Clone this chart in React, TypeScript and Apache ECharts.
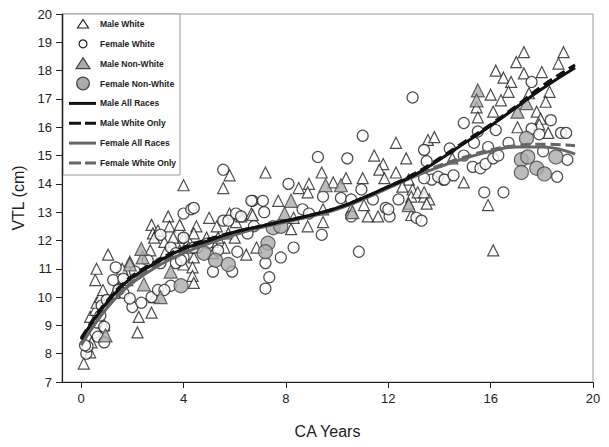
import React, { useEffect, useRef } from "react";
import * as echarts from "echarts";

// Age (years), VTL (cm)
const maleWhite: number[][] = [
  [0.1, 7.65], [0.35, 8.05], [0.4, 8.4], [0.35, 9.3], [0.55, 9.55], [0.6, 9.8], [0.75, 10.0], [0.85, 10.25], [0.55, 10.6], [0.6, 11.0], [1.05, 11.5], [0.9, 9.0],
  [1.3, 10.15], [1.5, 10.35], [1.8, 10.6], [2.2, 8.75], [2.25, 9.3], [2.75, 9.45], [2.85, 10.0], [2.75, 12.55], [2.8, 12.25], [1.9, 11.25], [1.6, 11.0],
  [3.4, 12.85], [3.0, 12.35], [3.45, 12.5], [3.85, 12.55], [4.5, 12.5], [5.0, 12.8], [5.3, 12.5], [5.8, 12.95], [6.05, 12.65],
  [2.85, 12.1], [3.25, 11.95], [3.6, 12.1], [4.0, 12.1], [4.2, 12.0], [4.4, 12.25], [4.9, 12.1], [5.15, 11.95], [5.35, 12.1], [5.75, 12.25], [6.0, 12.1],
  [2.7, 11.65], [3.3, 11.6], [3.85, 11.65], [4.2, 11.75], [4.4, 11.4], [4.0, 11.15], [4.35, 11.05], [5.15, 11.55], [5.6, 11.75],
  [4.35, 10.75], [4.4, 10.5], [4.0, 13.95], [5.55, 13.85], [5.8, 14.3],
  [6.25, 12.85], [6.65, 12.95], [6.45, 11.5], [6.85, 11.75], [6.7, 12.9], [7.2, 14.4], [7.7, 13.4], [8.3, 12.8], [8.2, 12.4], [8.85, 12.5], [9.45, 12.65], [9.45, 13.1], [8.9, 14.0], [8.5, 13.85], [8.85, 13.7], [9.4, 14.4],
  [9.85, 14.05], [10.35, 14.2], [11.0, 14.2], [11.45, 15.0], [11.8, 14.7], [11.65, 14.5], [11.85, 14.2], [12.3, 15.45], [12.7, 14.9], [12.3, 14.4], [12.8, 14.15], [12.55, 13.9], [12.95, 13.8], [12.9, 13.55], [11.05, 13.25], [11.2, 12.85], [11.6, 12.85], [12.9, 12.9], [10.55, 13.1],
  [13.15, 13.7], [13.4, 13.55], [13.6, 13.45], [12.8, 13.3], [13.5, 13.3], [13.55, 15.55], [13.8, 15.65], [13.4, 13.7], [14.5, 14.9],
  [14.95, 14.05], [15.9, 13.25], [16.1, 11.65], [15.45, 16.7], [15.5, 16.35], [16.1, 16.55], [16.0, 17.15], [16.4, 16.95], [16.2, 18.0], [16.5, 17.75],
  [17.3, 18.65], [18.85, 18.65], [17.0, 18.3], [18.65, 18.25], [17.3, 17.9], [18.0, 17.95], [16.8, 17.6], [16.7, 17.25], [17.5, 17.2], [18.3, 17.25], [18.15, 16.9], [17.8, 16.55], [17.95, 16.3], [17.9, 16.1], [17.05, 16.0], [18.25, 15.8],
];

const femaleWhite: number[][] = [
  [0.2, 8.0], [0.25, 8.25], [0.55, 8.75], [0.65, 8.6], [0.6, 9.1], [0.75, 9.35], [0.9, 8.95], [0.9, 8.4], [0.8, 9.7], [1.0, 9.9], [0.15, 8.3],
  [1.35, 11.05], [1.25, 10.6], [1.65, 10.15], [1.45, 10.25], [1.65, 10.65], [2.0, 9.65], [2.35, 9.8], [2.75, 10.0], [3.0, 10.25], [1.9, 9.95], [2.6, 11.3], [3.1, 11.2], [2.1, 10.9],
  [3.1, 12.2], [3.5, 11.75], [4.0, 12.1], [4.55, 11.75], [5.35, 11.65], [4.0, 11.4], [3.7, 11.2], [4.95, 11.9], [3.7, 11.55], [3.9, 11.3], [4.4, 11.75], [6.1, 11.6],
  [3.5, 10.4], [3.25, 10.25], [5.15, 10.9], [5.9, 10.9],
  [4.0, 12.95], [4.3, 13.1], [4.4, 13.15], [5.55, 14.5], [5.55, 12.7], [5.75, 12.7], [6.05, 12.95], [6.7, 13.4],
  [6.65, 13.4], [7.1, 13.4], [7.15, 13.0], [8.65, 13.1], [8.9, 12.95], [6.25, 12.85], [6.75, 12.5], [6.5, 12.25], [9.4, 12.2], [8.3, 11.75], [7.8, 11.4], [7.2, 11.2], [7.35, 10.7], [7.2, 10.3], [9.45, 13.55], [8.1, 14.0], [9.25, 14.95],
  [10.4, 14.9], [11.0, 15.7], [10.95, 13.8], [11.4, 13.45], [10.15, 13.5], [10.55, 13.45], [10.55, 12.85], [12.05, 12.85], [11.9, 13.15], [12.4, 13.45], [10.85, 11.6], [12.95, 17.05], [12.0, 13.1], [13.1, 12.8],
  [13.4, 15.2], [13.5, 14.8], [13.7, 14.15], [14.15, 14.15], [14.4, 15.25], [14.95, 15.0], [14.95, 16.15], [15.5, 15.85], [16.2, 15.9], [15.35, 15.45], [15.9, 15.3], [13.95, 14.25], [14.2, 14.15], [14.55, 14.3], [15.3, 14.6], [15.6, 14.55], [15.8, 14.7], [16.1, 14.9], [16.3, 15.0], [13.4, 14.2], [15.75, 13.7], [16.5, 13.7], [13.3, 12.7],
  [17.6, 17.6], [18.35, 16.25], [18.75, 15.8], [18.95, 15.8], [17.6, 15.95], [17.9, 15.75], [18.05, 15.15], [19.0, 14.85], [18.6, 14.25], [16.7, 15.45],
];

const maleNonWhite: number[][] = [
  [0.95, 8.65], [1.9, 11.15], [2.4, 11.4], [2.35, 11.7], [2.45, 10.45], [3.1, 10.0], [3.5, 10.9],
  [7.95, 12.95], [8.2, 13.4], [9.55, 13.95], [10.15, 13.95], [10.6, 13.0], [12.8, 13.25],
  [15.5, 17.3], [15.45, 16.95], [17.05, 16.55], [17.4, 16.85],
];

const femaleNonWhite: number[][] = [
  [3.9, 10.4], [4.8, 11.55], [5.25, 11.3], [5.75, 11.15], [7.5, 12.45], [7.8, 12.5], [7.3, 11.9], [7.2, 11.6],
  [17.4, 15.6], [17.2, 14.85], [17.45, 14.95], [17.8, 14.55], [18.1, 14.35], [17.2, 14.4], [18.55, 14.95],
];

const fitAges = [0, 0.5, 1, 1.5, 2, 3, 4, 5, 6, 7, 8, 9, 10, 11, 12, 13, 14, 15, 16, 17, 18, 19.3];
const maleAllRaces = [8.5, 9.2, 9.8, 10.3, 10.7, 11.25, 11.7, 12.0, 12.3, 12.5, 12.7, 12.9, 13.15, 13.5, 13.9, 14.3, 14.85, 15.45, 16.05, 16.7, 17.35, 18.1];
const maleWhiteOnly = [8.55, 9.25, 9.85, 10.35, 10.75, 11.3, 11.75, 12.05, 12.3, 12.5, 12.7, 12.9, 13.15, 13.5, 13.9, 14.35, 14.9, 15.5, 16.1, 16.75, 17.45, 18.2];
const femaleAllRaces = [8.3, 9.0, 9.6, 10.1, 10.5, 11.1, 11.55, 11.9, 12.2, 12.45, 12.65, 12.85, 13.1, 13.45, 13.85, 14.25, 14.6, 14.9, 15.15, 15.3, 15.3, 15.05];
const femaleWhiteOnly = [8.35, 9.05, 9.65, 10.15, 10.55, 11.15, 11.6, 11.95, 12.25, 12.5, 12.7, 12.9, 13.15, 13.5, 13.9, 14.3, 14.65, 14.95, 15.2, 15.35, 15.4, 15.35];

const xTicks = [0, 4, 8, 12, 16, 20];
const legendNames = [
  "Male White", "Female White", "Male Non-White", "Female Non-White",
  "Male All Races", "Male White Only", "Female All Races", "Female White Only",
];

const FONT = "Liberation Sans, Arial, sans-serif";

function buildLegend() {
  const left = 63, top = 14, w = 117, h = 161;
  const children: any[] = [
    { type: "rect", shape: { x: left, y: top, width: w, height: h }, style: { fill: "#ffffff", stroke: "#9a9a9a", lineWidth: 1 } },
  ];
  const sx = 83;
  legendNames.forEach((name, i) => {
    const cy = 24 + i * 19.85;
    if (i === 0) {
      children.push({ type: "polygon", shape: { points: [[sx, cy - 4.5], [sx - 5.5, cy + 4], [sx + 5.5, cy + 4]] }, style: { fill: "#fff", stroke: "#222", lineWidth: 1.2 } });
    } else if (i === 1) {
      children.push({ type: "circle", shape: { cx: sx, cy, r: 4 }, style: { fill: "#fff", stroke: "#222", lineWidth: 1.2 } });
    } else if (i === 2) {
      children.push({ type: "polygon", shape: { points: [[sx, cy - 6], [sx - 7, cy + 5], [sx + 7, cy + 5]] }, style: { fill: "#ababab", stroke: "#444", lineWidth: 1.2 } });
    } else if (i === 3) {
      children.push({ type: "circle", shape: { cx: sx, cy, r: 6.3 }, style: { fill: "#ababab", stroke: "#444", lineWidth: 1.2 } });
    } else {
      const male = i === 4 || i === 5;
      const dashed = i === 5 || i === 7;
      children.push({
        type: "line",
        shape: { x1: 69, y1: cy, x2: 96, y2: cy },
        style: { stroke: male ? "#111" : "#666", lineWidth: 3, lineDash: dashed ? [12, 4] : null },
      });
    }
    children.push({
      type: "text",
      x: 100,
      y: cy,
      style: { text: name, fontFamily: FONT, fontWeight: "bold", fontSize: 8.5, fill: "#222", verticalAlign: "middle", align: "left" },
    });
  });
  return [{ type: "group", z: 100, children }];
}

export default function App() {
  const ref = useRef<HTMLDivElement>(null);
  useEffect(() => {
    if (!ref.current) return;
    const chart = echarts.init(ref.current, undefined, { renderer: "svg" });
    const pair = (ys: number[]) => fitAges.map((a, i) => [a, ys[i]]);
    const hollow = { color: "#ffffff", borderColor: "#222", borderWidth: 1.2 };
    const grey = { color: "#ababab", borderColor: "#444", borderWidth: 1.2 };
    chart.setOption({
      animation: false,
      backgroundColor: "#ffffff",
      grid: { left: 62, right: 16, top: 14, bottom: 65, show: true, borderColor: "#9a9a9a", borderWidth: 1 },
      graphic: buildLegend(),
      xAxis: {
        type: "value",
        min: -0.75,
        max: 20,
        name: "CA Years",
        nameLocation: "middle",
        nameGap: 41,
        nameTextStyle: { fontFamily: FONT, fontSize: 16, color: "#222" },
        splitLine: { show: false },
        axisLine: { show: true, onZero: false, lineStyle: { color: "#222", width: 1.2 } },
        axisTick: { show: true, inside: false, length: 6, customValues: xTicks, lineStyle: { color: "#222" } },
        axisLabel: { customValues: xTicks, margin: 10, fontFamily: FONT, fontSize: 13, color: "#222" },
      },
      yAxis: {
        type: "value",
        min: 7,
        max: 20,
        interval: 1,
        name: "VTL (cm)",
        nameLocation: "middle",
        nameGap: 31,
        nameTextStyle: { fontFamily: FONT, fontSize: 16, color: "#222" },
        splitLine: { show: false },
        axisLine: { show: true, onZero: false, lineStyle: { color: "#222", width: 1.2 } },
        axisTick: { show: true, inside: false, length: 6, lineStyle: { color: "#222" } },
        axisLabel: { margin: 10, fontFamily: FONT, fontSize: 13, color: "#222" },
      },
      series: [
        { name: "Male White", type: "scatter", symbol: "triangle", symbolSize: 11, data: maleWhite, itemStyle: hollow, z: 2 },
        { name: "Female White", type: "scatter", symbol: "circle", symbolSize: 11, data: femaleWhite, itemStyle: hollow, z: 2 },
        { name: "Male Non-White", type: "scatter", symbol: "triangle", symbolSize: 13, data: maleNonWhite, itemStyle: grey, z: 3 },
        { name: "Female Non-White", type: "scatter", symbol: "circle", symbolSize: 14, data: femaleNonWhite, itemStyle: grey, z: 3 },
        { name: "Male All Races", type: "line", data: pair(maleAllRaces), smooth: true, symbol: "none", lineStyle: { color: "#111", width: 3 }, itemStyle: { color: "#111" }, z: 5 },
        { name: "Male White Only", type: "line", data: pair(maleWhiteOnly), smooth: true, symbol: "none", lineStyle: { color: "#111", width: 3, type: [10, 5] }, itemStyle: { color: "#111" }, z: 5 },
        { name: "Female All Races", type: "line", data: pair(femaleAllRaces), smooth: true, symbol: "none", lineStyle: { color: "#666", width: 3 }, itemStyle: { color: "#666" }, z: 4 },
        { name: "Female White Only", type: "line", data: pair(femaleWhiteOnly), smooth: true, symbol: "none", lineStyle: { color: "#666", width: 3, type: [10, 5] }, itemStyle: { color: "#666" }, z: 4 },
      ],
    });
    return () => chart.dispose();
  }, []);
  return <div ref={ref} style={{ position: "absolute", left: 0, top: 0, width: 609, height: 447 }} />;
}
